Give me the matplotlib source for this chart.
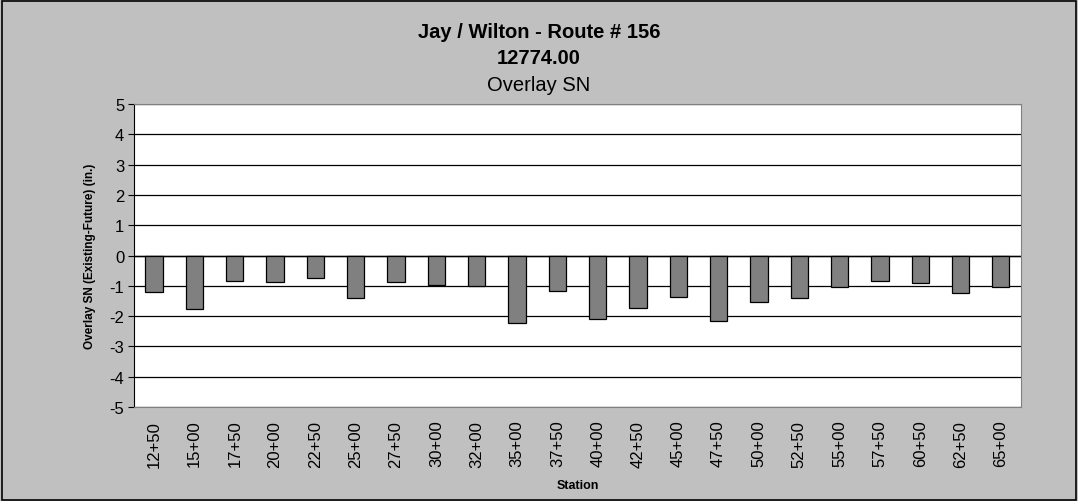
import matplotlib
matplotlib.use("Agg")
import matplotlib.pyplot as plt
from matplotlib.patches import Rectangle

plt.rcParams['font.family'] = ['Liberation Sans', 'DejaVu Sans']

stations = ["12+50", "15+00", "17+50", "20+00", "22+50", "25+00", "27+50", "30+00",
            "32+00", "35+00", "37+50", "40+00", "42+50", "45+00", "47+50", "50+00",
            "52+50", "55+00", "57+50", "60+50", "62+50", "65+00"]
overlay_sn = [-1.21, -1.76, -0.85, -0.88, -0.75, -1.39, -0.88, -0.96,
              -1.01, -2.24, -1.16, -2.08, -1.73, -1.38, -2.16, -1.52,
              -1.39, -1.04, -0.83, -0.89, -1.22, -1.05]
y_ticks = list(range(-5, 6))

fig = plt.figure(figsize=(10.78, 5.02), dpi=100)
fig.patch.set_facecolor('#C0C0C0')
fig.patches.append(Rectangle((0.0015, 0.002), 0.997, 0.995, transform=fig.transFigure,
                             fill=False, edgecolor='black', linewidth=1.2))

ax = fig.add_axes([0.1243, 0.187, 0.8228, 0.604])
ax.set_facecolor('white')
x = list(range(len(stations)))
ax.bar(x, overlay_sn, width=0.43, color='#808080', edgecolor='black', linewidth=0.9, zorder=3)

ax.set_xlim(-0.5, len(stations) - 0.5)
ax.set_ylim(-5, 5)
ax.set_yticks(y_ticks)
ax.set_yticklabels([str(t) for t in y_ticks], fontsize=12)
ax.yaxis.grid(True, color='black', linewidth=0.9, zorder=1)
ax.axhline(0, color='black', linewidth=1.0, zorder=2)

ax.set_xticks(x)
ax.set_xticklabels(stations, rotation=90, fontsize=12)
ax.tick_params(axis='x', length=0, pad=9)
ax.tick_params(axis='y', length=4, direction='out', width=0.8, pad=3)

for side in ['top', 'right']:
    ax.spines[side].set_color('#808080')
ax.spines['bottom'].set_color('#808080')
ax.spines['left'].set_color('black')

ax.set_ylabel("Overlay SN (Existing-Future) (in.)", fontsize=8.5, fontweight='bold', labelpad=10)
ax.set_xlabel("Station", fontsize=9, fontweight='bold', labelpad=9)

fig.text(0.5, 0.936, "Jay / Wilton - Route # 156", ha='center', va='center',
         fontsize=14.5, fontweight='bold')
fig.text(0.5, 0.884, "12774.00", ha='center', va='center', fontsize=14.5, fontweight='bold')
fig.text(0.5, 0.829, "Overlay SN", ha='center', va='center', fontsize=14.5)

fig.savefig("out.png", dpi=100, facecolor=fig.get_facecolor())
